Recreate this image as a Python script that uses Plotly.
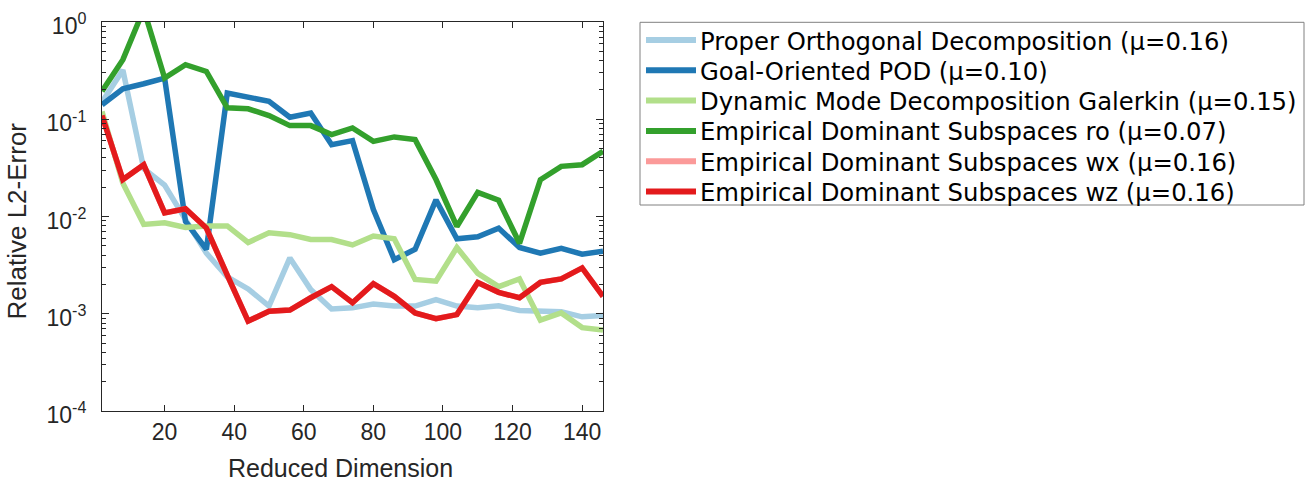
import plotly.graph_objects as go

# ---- data ----
reduced_dim = [2, 8, 14, 20, 26, 32, 38, 44, 50, 56, 62, 68, 74, 80, 86, 92, 98, 104, 110, 116, 122, 128, 134, 140, 146]

pod = [0.15, 0.32, 0.031, 0.021, 0.0093, 0.0042, 0.0024, 0.0018, 0.0012, 0.00375, 0.00177, 0.00112, 0.00115,
       0.00126, 0.0012, 0.0012, 0.0014, 0.0012, 0.00115, 0.00121, 0.00108, 0.00105, 0.00105, 0.00093, 0.00096]
gopod = [0.141, 0.206, 0.232, 0.265, 0.0089, 0.0046, 0.186, 0.17, 0.153, 0.105, 0.116, 0.0548, 0.0603,
         0.0118, 0.0036, 0.0046, 0.0148, 0.0059, 0.0062, 0.0076, 0.0048, 0.0042, 0.0047, 0.0041, 0.0044]
dmdg = [0.12, 0.022, 0.0083, 0.0086, 0.0077, 0.008, 0.008, 0.0054, 0.0068, 0.0065, 0.0058, 0.0058, 0.0051,
        0.0063, 0.0059, 0.00225, 0.00216, 0.0048, 0.0026, 0.0019, 0.00228, 0.00086, 0.00102, 0.00072, 0.00068]
eds_ro = [0.194, 0.41, 1.35, 0.265, 0.364, 0.31, 0.131, 0.128, 0.109, 0.086, 0.086, 0.0695, 0.0814,
          0.0593, 0.0658, 0.0617, 0.024, 0.0079, 0.0177, 0.0147, 0.0053, 0.0239, 0.0328, 0.0341, 0.0468]
eds_wx = [0.109, 0.024, 0.034, 0.0109, 0.012, 0.0076, 0.0025, 0.00084, 0.00106, 0.00109, 0.00146, 0.0019, 0.0013,
          0.00204, 0.00151, 0.00102, 0.00089, 0.00098, 0.0021, 0.00166, 0.00146, 0.0021, 0.00228, 0.00296, 0.00151]
eds_wz = [0.109, 0.024, 0.034, 0.0109, 0.012, 0.0076, 0.0025, 0.00084, 0.00106, 0.00109, 0.00146, 0.0019, 0.0013,
          0.00204, 0.00151, 0.00102, 0.00089, 0.00098, 0.0021, 0.00166, 0.00146, 0.0021, 0.00228, 0.00296, 0.00151]

series_names = [
    "Proper Orthogonal Decomposition (μ=0.16)",
    "Goal-Oriented POD (μ=0.10)",
    "Dynamic Mode Decomposition Galerkin (μ=0.15)",
    "Empirical Dominant Subspaces ro (μ=0.07)",
    "Empirical Dominant Subspaces wx (μ=0.16)",
    "Empirical Dominant Subspaces wz (μ=0.16)",
]
series_values = [pod, gopod, dmdg, eds_ro, eds_wx, eds_wz]
series_colors = ["#a6cee3", "#1f78b4", "#b2df8a", "#33a02c", "#fb9a99", "#e31a1c"]

x_title = "Reduced Dimension"
y_title = "Relative L2-Error"
x_ticks = [20, 40, 60, 80, 100, 120, 140]
y_ticks = [1e-4, 1e-3, 1e-2, 1e-1, 1e0]
y_ticktext = ["10<sup>-4</sup>", "10<sup>-3</sup>", "10<sup>-2</sup>", "10<sup>-1</sup>", "10<sup>0</sup>"]
y_minor = [m * 10.0 ** e for e in (-4, -3, -2, -1) for m in range(2, 10)]

axis_color = "#262626"

# ---- layout geometry (pixels; the page body margin is removed below) ----
W, H = 1312, 481
ML, MR, MT, MB = 102, 709, 22, 70
PW, PH = W - ML - MR, H - MT - MB


def px_x(X):
    return (X - ML) / PW


def px_y(Y):
    return (H - MB - Y) / PH


fig = go.Figure()
for name, vals, col in zip(series_names, series_values, series_colors):
    fig.add_trace(go.Scatter(
        x=reduced_dim, y=vals, name=name, mode="lines",
        line=dict(color=col, width=5.5), showlegend=False,
    ))

# ---- legend box drawn as shapes + text annotations ----
LEG_L, LEG_R, LEG_T, LEG_B = 640, 1304, 22.3, 205
ROW0, ROW_DY = 40, 30.3
LINE_X0, LINE_X1, TEXT_X = 646, 696, 698

shapes = [dict(type="rect", xref="paper", yref="paper",
               x0=px_x(LEG_L), x1=px_x(LEG_R), y0=px_y(LEG_B), y1=px_y(LEG_T),
               line=dict(color="#808080", width=1), fillcolor="white", layer="below")]
annotations = []
for i, (name, col) in enumerate(zip(series_names, series_colors)):
    yc = ROW0 + i * ROW_DY
    shapes.append(dict(type="line", xref="paper", yref="paper",
                       x0=px_x(LINE_X0), x1=px_x(LINE_X1), y0=px_y(yc), y1=px_y(yc),
                       line=dict(color=col, width=6)))
    annotations.append(dict(xref="paper", yref="paper", x=px_x(TEXT_X), y=px_y(yc + 1),
                            xanchor="left", yanchor="middle", showarrow=False, text=name,
                            font=dict(family="DejaVu Sans", size=24.3, color="black")))

# axis titles placed as annotations (positions as in the reference)
annotations.append(dict(xref="paper", yref="paper", x=px_x(340), y=px_y(468),
                        xanchor="center", yanchor="middle", showarrow=False, text=x_title,
                        font=dict(family="Liberation Sans, Arial, sans-serif", size=25, color=axis_color)))
annotations.append(dict(xref="paper", yref="paper", x=px_x(16.5), y=px_y(221),
                        xanchor="center", yanchor="middle", showarrow=False, text=y_title, textangle=-90,
                        font=dict(family="Liberation Sans, Arial, sans-serif", size=26, color=axis_color)))

fig.update_layout(
    width=W, height=H,
    margin=dict(l=ML, r=MR, t=MT, b=MB, autoexpand=False),
    paper_bgcolor="white", plot_bgcolor="white",
    font=dict(family="Liberation Sans, Arial, sans-serif", color=axis_color, size=23),
    showlegend=False,
    shapes=shapes,
    annotations=annotations,
)

fig.update_xaxes(
    range=[2, 146], tickmode="array", tickvals=x_ticks,
    ticks="inside", ticklen=6, tickcolor=axis_color, tickwidth=1,
    showline=True, linecolor=axis_color, linewidth=1, mirror="ticks",
    showgrid=False, zeroline=False,
    tickfont=dict(size=23, color=axis_color), ticklabelstandoff=0,
)
fig.update_yaxes(
    type="log", range=[-4, 0], tickmode="array", tickvals=y_ticks, ticktext=y_ticktext,
    ticks="inside", ticklen=7, tickcolor=axis_color, tickwidth=1,
    minor=dict(tickmode="array", tickvals=y_minor, ticks="inside", ticklen=4, tickcolor=axis_color, showgrid=False),
    showline=True, linecolor=axis_color, linewidth=1, mirror="ticks",
    showgrid=False, zeroline=False, ticklabeloverflow="allow", ticklabelshift=4,
    tickfont=dict(size=23, color=axis_color), ticklabelstandoff=10,
)

fig.write_html("out.html", config={"displayModeBar": False},
               post_script="document.body.style.margin='0px';")
